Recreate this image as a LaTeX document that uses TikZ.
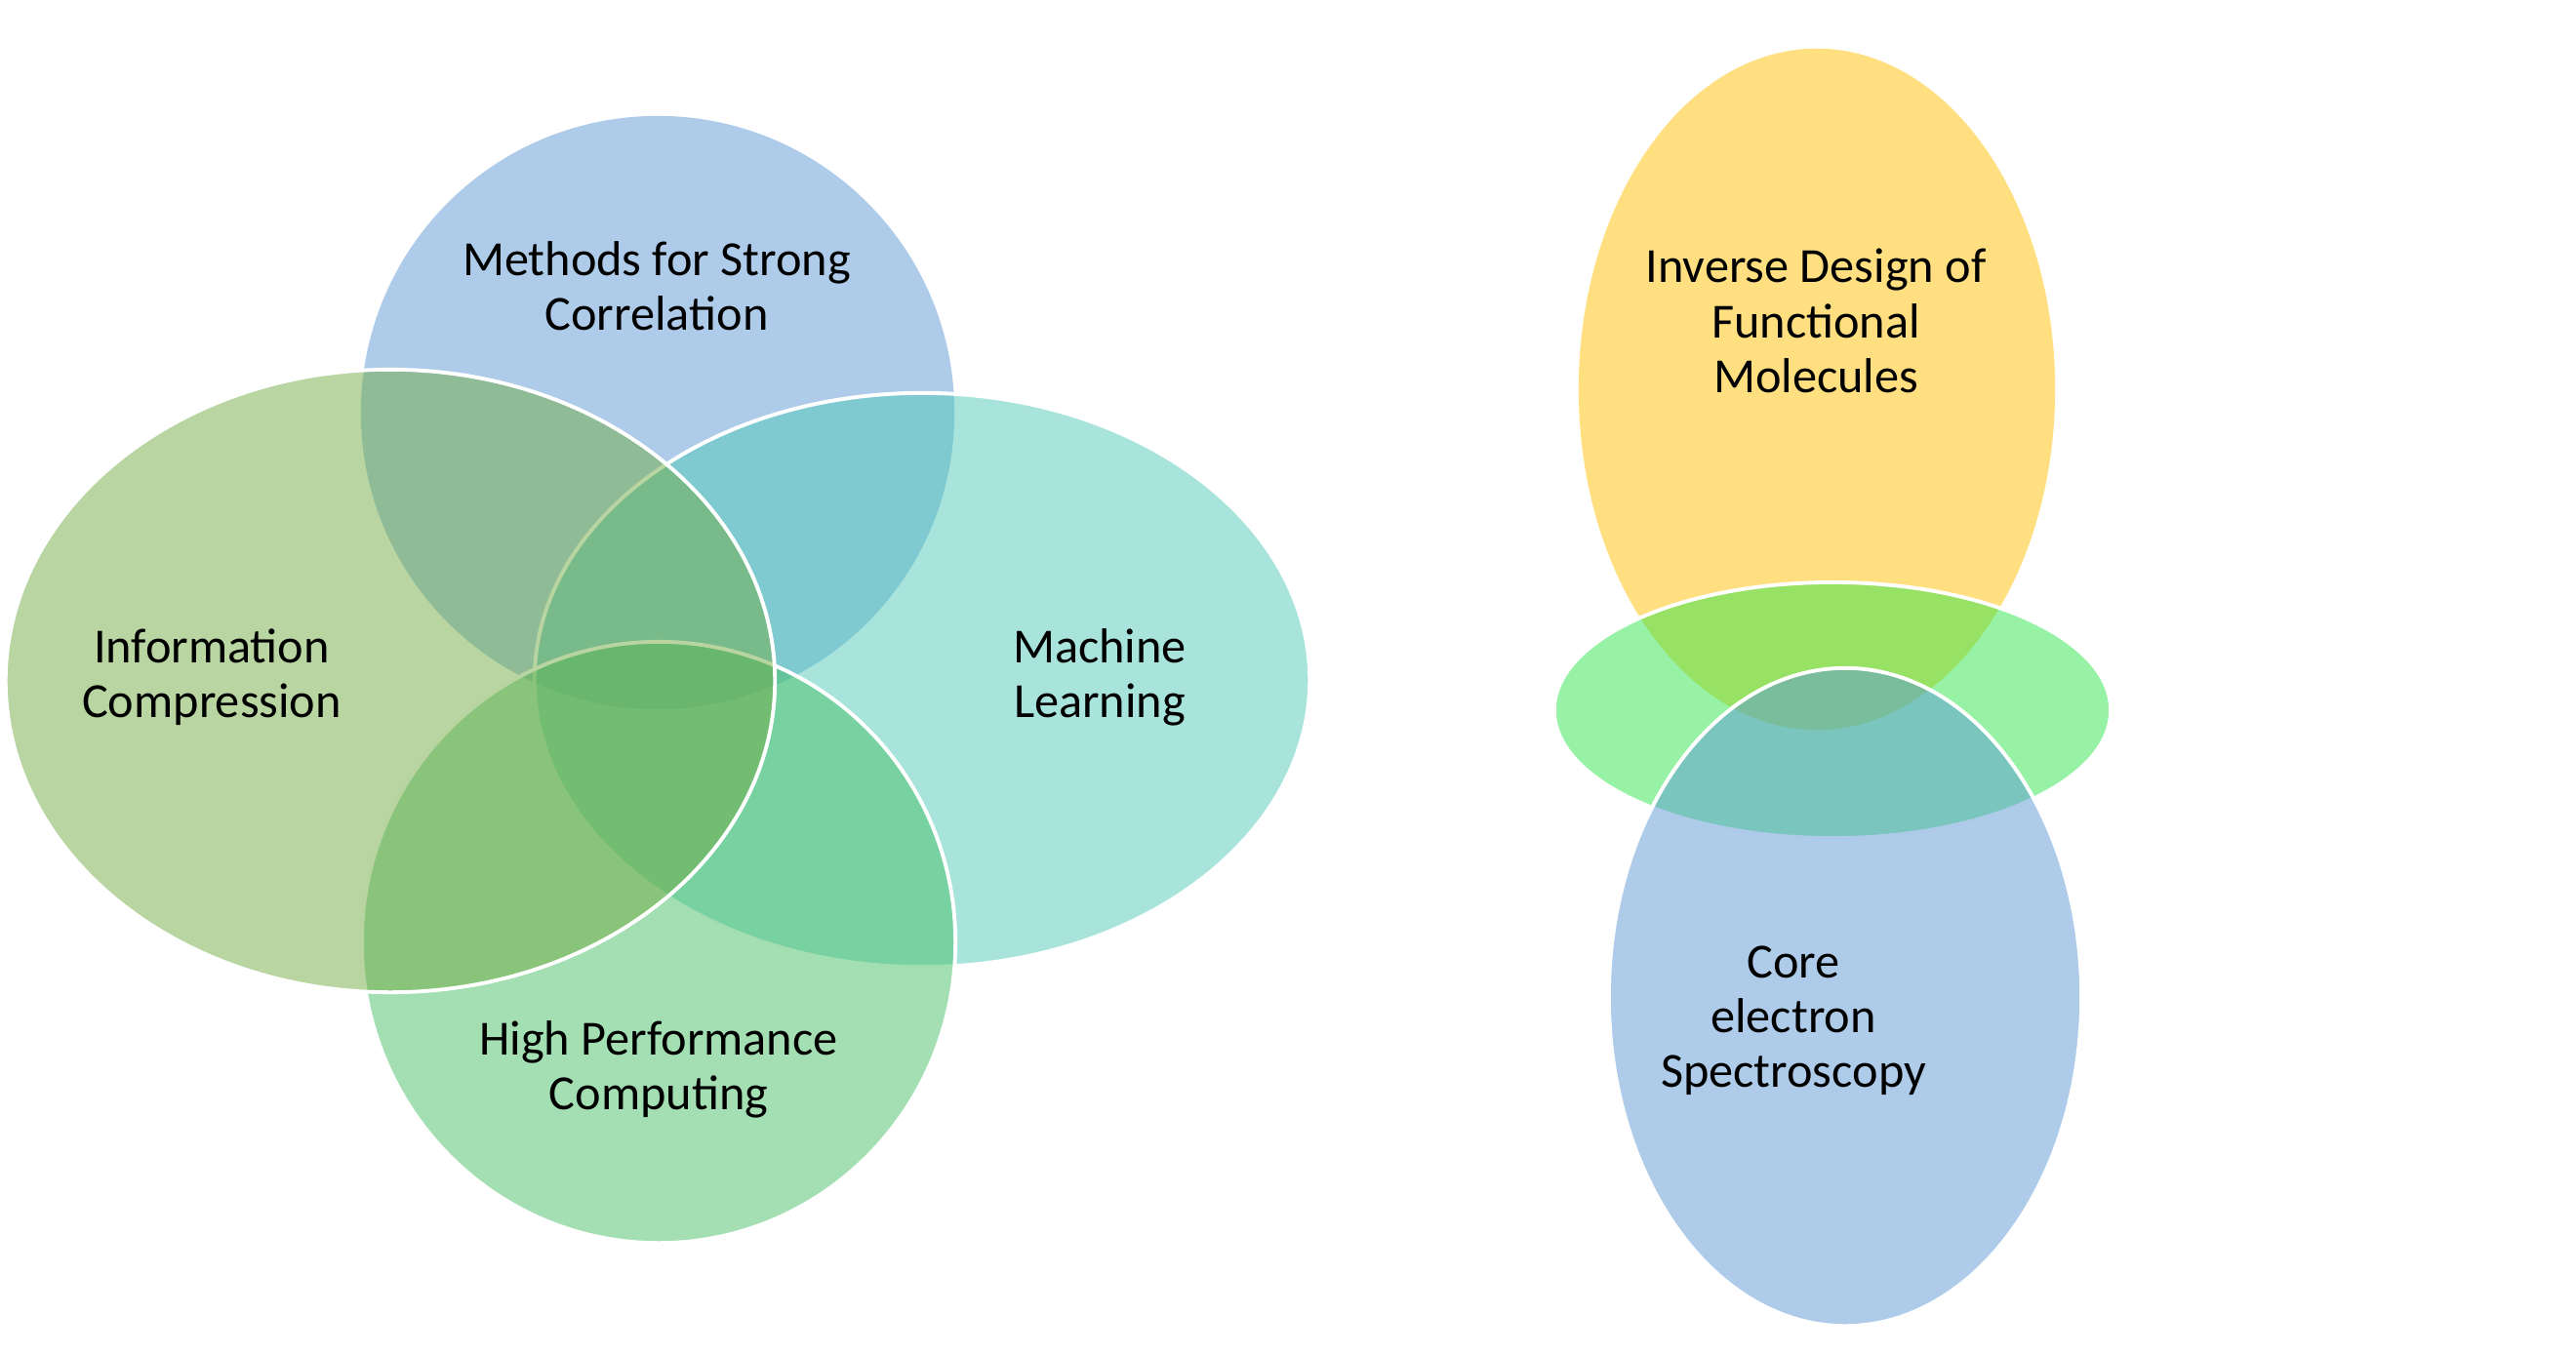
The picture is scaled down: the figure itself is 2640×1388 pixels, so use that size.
\documentclass[tikz,border=0pt]{standalone}
\usepackage{fontspec}
\setmainfont{Carlito}
\usepackage{tikz}
\usetikzlibrary{shapes.geometric}
\definecolor{corrblue}{RGB}{93,153,213}
\definecolor{infogreen}{RGB}{113,171,69}
\definecolor{mlteal}{RGB}{81,201,185}
\definecolor{hpcgreen}{RGB}{71,191,101}
\definecolor{invyellow}{RGB}{255,191,1}
\definecolor{midgreen}{RGB}{49,229,75}

\begin{document}
\begin{tikzpicture}[x=0.01cm, y=-0.01cm,
  venn/.style={ellipse, inner sep=0, fill opacity=0.5},
  rim/.style={draw=white, line width=1.1pt},
  lbl/.style={align=center, font=\fontsize{14.3}{16}\selectfont}]
  \useasboundingbox (0,0) rectangle (2640,1388);

  % left group
  \node[venn, fill=corrblue, minimum width=6.08cm, minimum height=6.08cm]
    (corr) at (674, 423) {};
  \node[venn, rim, fill=mlteal, minimum width=7.94cm, minimum height=5.88cm]
    (ml) at (945, 697) {};
  \node[venn, rim, fill=hpcgreen, minimum width=6.08cm, minimum height=6.16cm]
    (hpc) at (675, 966) {};
  \node[venn, rim, fill=infogreen, minimum width=7.88cm, minimum height=6.38cm]
    (info) at (400, 698) {};

  % right group
  \node[venn, fill=invyellow, minimum width=4.88cm, minimum height=6.98cm]
    (inv) at (1862, 399) {};
  \node[venn, rim, fill=midgreen, minimum width=5.70cm, minimum height=2.62cm]
    (mid) at (1878, 728) {};
  \node[venn, rim, fill=corrblue, minimum width=4.84cm, minimum height=6.74cm]
    (core) at (1891, 1022) {};

  \node[lbl] (corrtext) at (673, 293) {Methods for Strong\\Correlation};
  \node[lbl] (infotext) at (217, 694) {Information\\Compression};
  \node[lbl] (mltext) at (1127, 694) {Machine\\Learning};
  \node[lbl] (hpctext) at (675, 1096) {High Performance\\Computing};
  \node[lbl] (invtext) at (1861, 329) {Inverse Design of\\Functional\\Molecules};
  \node[lbl] (coretext) at (1838, 1046) {Core\\electron\\Spectroscopy};
\end{tikzpicture}
\end{document}
